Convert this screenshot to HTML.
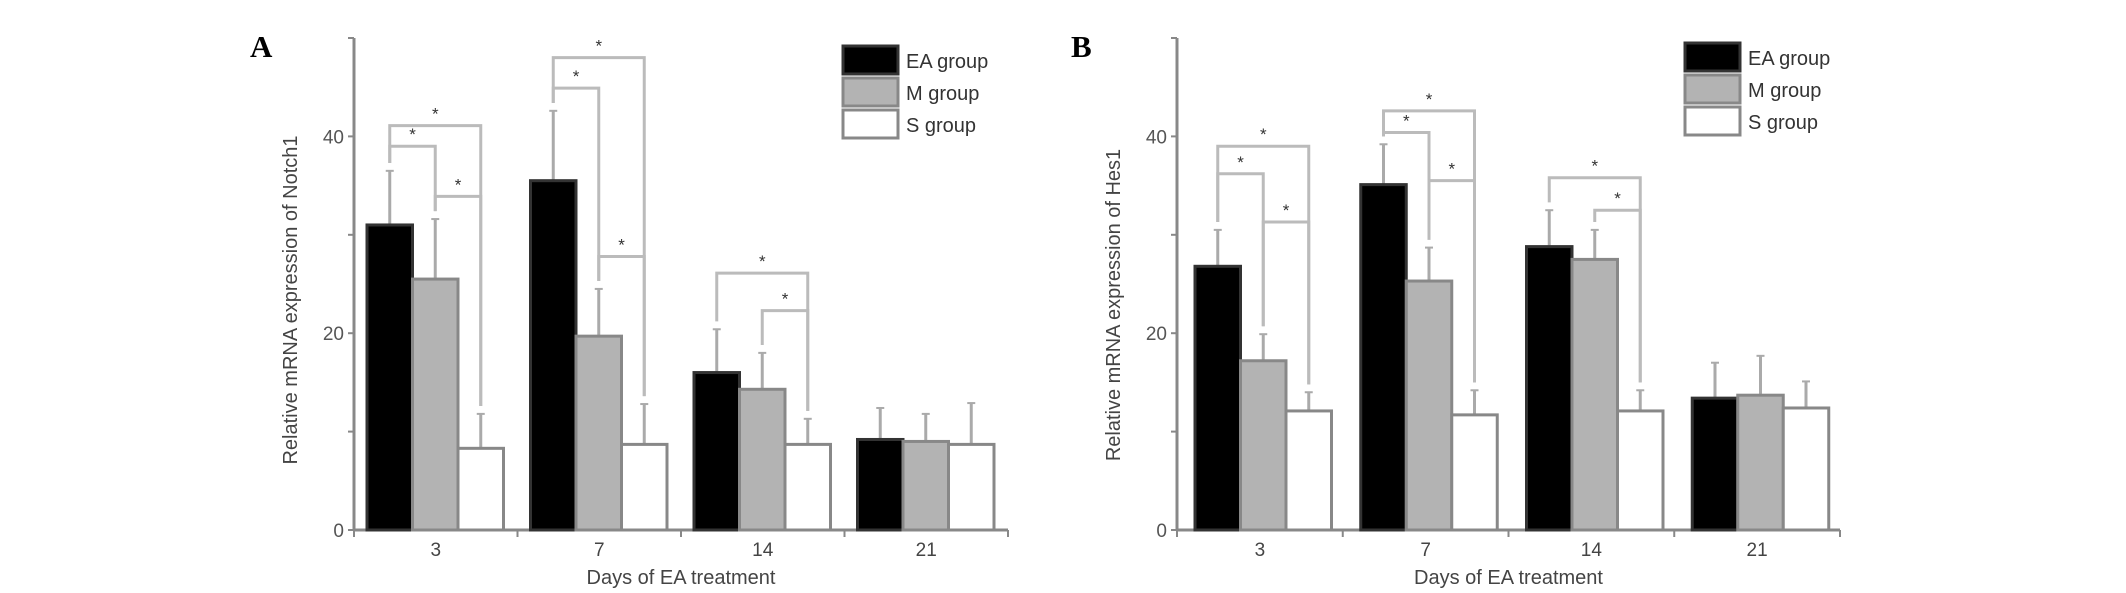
<!DOCTYPE html>
<html><head><meta charset="utf-8"><style>
html,body{margin:0;padding:0;background:#fff;}
svg{display:block;font-family:"Liberation Sans",sans-serif;}
</style></head><body>
<svg id="fig" width="2126" height="593" viewBox="0 0 2126 593"></svg>
<script>
const categories=["3","7","14","21"];
const seriesNames=["EA group","M group","S group"];
const aEA=[31,35.5,16,9.2];
const aM=[25.5,19.7,14.3,9];
const aS=[8.3,8.7,8.7,8.7];
const aEAerr=[36.5,42.6,20.4,12.4];
const aMerr=[31.6,24.5,18,11.8];
const aSerr=[11.8,12.8,11.3,12.9];
const bEA=[26.8,35.1,28.8,13.4];
const bM=[17.2,25.3,27.5,13.7];
const bS=[12.1,11.7,12.1,12.4];
const bEAerr=[30.5,39.2,32.5,17];
const bMerr=[19.9,28.7,30.5,17.7];
const bSerr=[14,14.2,14.2,15.1];
// brackets: [category, fromSeries, toSeries, level]
const aBrackets=[[0,0,1,39],[0,0,2,41.1],[0,1,2,33.9],[1,0,1,44.9],[1,0,2,48],[1,1,2,27.8],[2,0,2,26.1],[2,1,2,22.3]];
const bBrackets=[[0,0,1,36.2],[0,0,2,39],[0,1,2,31.3],[1,0,1,40.4],[1,0,2,42.6],[1,1,2,35.5],[2,0,2,35.8],[2,1,2,32.5]];
const yTicks=[0,10,20,30,40,50];
const yLabels=["0","","20","","40",""];

const NS="http://www.w3.org/2000/svg";
const svg=document.getElementById('fig');
function mk(t,a,p){const e=document.createElementNS(NS,t);for(const k in a)e.setAttribute(k,a[k]);(p||svg).appendChild(e);return e;}
const fills=["#000","#b3b3b3","#fff"];
const strokes=["#333","#888","#888"];

function panel(o){
  const g=mk('g',{});
  
  
  const y=v=>530-v*(492/50);
  const gw=(o.x1-o.x0)/4, bw=45.5;
  const bx=(c,s)=>o.x0+c*gw+o.off+s*bw;
  const vals=[o.ea,o.m,o.s], errs=[o.eaErr,o.mErr,o.sErr];
  // axis
  const ax=mk('line',{x1:o.x0,y1:y(0),x2:o.x0,y2:y(50),stroke:'#888','stroke-width':3},g);
  
  const xa=mk('line',{x1:o.x0,y1:y(0),x2:o.x1,y2:y(0),stroke:'#888','stroke-width':3},g);
  
  yTicks.forEach((t,i)=>{
    mk('line',{x1:o.x0-6,y1:y(t),x2:o.x0,y2:y(t),stroke:'#888','stroke-width':2},g);
    if(yLabels[i]){const tx=mk('text',{x:o.x0-10,y:y(t)+7,'text-anchor':'end','font-size':19,fill:'#555'},g);tx.textContent=yLabels[i];
      }
  });
  for(let c=0;c<=4;c++) mk('line',{x1:o.x0+c*gw,y1:y(0),x2:o.x0+c*gw,y2:y(0)+7,stroke:'#888','stroke-width':2},g);
  categories.forEach((cat,c)=>{
    const tx=mk('text',{x:o.x0+(c+0.5)*gw,y:556,'text-anchor':'middle','font-size':19,fill:'#444'},g);tx.textContent=cat;
    
    for(let s=0;s<3;s++){
      const cx=bx(c,s)+bw/2;
      mk('line',{x1:cx,y1:y(vals[s][c]),x2:cx,y2:y(errs[s][c]),stroke:'#aaa','stroke-width':3},g);
      mk('line',{x1:cx-4,y1:y(errs[s][c]),x2:cx+4,y2:y(errs[s][c]),stroke:'#aaa','stroke-width':2},g);
      const r=mk('rect',{x:bx(c,s),y:y(vals[s][c]),width:bw,height:y(0)-y(vals[s][c]),fill:fills[s],stroke:strokes[s],'stroke-width':3},g);
      
      
    }
  });
  o.br.forEach(b=>{
    const [c,s1,s2,lv]=b;
    const x1=bx(c,s1)+bw/2, x2=bx(c,s2)+bw/2;
    const l1=Math.max(errs[s1][c],vals[s1][c])+0.8, l2=Math.max(errs[s2][c],vals[s2][c])+0.8;
    const p=mk('path',{d:`M${x1},${y(l1)}V${y(lv)}H${x2}V${y(l2)}`,fill:'none',stroke:'#bbb','stroke-width':3},g);
    
    const st=mk('text',{x:(x1+x2)/2,y:y(lv)-6,'text-anchor':'middle','font-size':17,fill:'#333'},g);st.textContent='*';
    
  });
  // legend
  seriesNames.forEach((n,i)=>{
    const r=mk('rect',{x:o.lx,y:o.ly+i*32,width:55,height:28,fill:fills[i],stroke:strokes[i],'stroke-width':3},g);
    
    const t=mk('text',{x:o.lx+63,y:o.ly+i*32+22,'font-size':20,fill:'#333'},g);t.textContent=n;
    
  });
  const L=mk('text',{x:o.labx,y:57,'font-size':31,'font-weight':'bold','font-family':'"Liberation Serif",serif',fill:'#000'},g);L.textContent=o.letter;
  
  const xt=mk('text',{x:(o.x0+o.x1)/2,y:584,'text-anchor':'middle','font-size':20,fill:'#444'},g);xt.textContent='Days of EA treatment';
  
  const yt=mk('text',{x:0,y:0,'text-anchor':'middle','font-size':20,fill:'#444',transform:`translate(${o.x0-57},${o.ytc}) rotate(-90)`},g);yt.textContent=o.ytitle;
  
}
panel({name:'panel-a',x0:354,x1:1008,off:13,ea:aEA,m:aM,s:aS,eaErr:aEAerr,mErr:aMerr,sErr:aSerr,br:aBrackets,lx:843,ly:46,letter:'A',labx:250,ytitle:'Relative mRNA expression of Notch1',ytc:300});
panel({name:'panel-b',x0:1177,x1:1840,off:18,ea:bEA,m:bM,s:bS,eaErr:bEAerr,mErr:bMerr,sErr:bSerr,br:bBrackets,lx:1685,ly:43,letter:'B',labx:1071,ytitle:'Relative mRNA expression of Hes1',ytc:305});
</script>
</body></html>
